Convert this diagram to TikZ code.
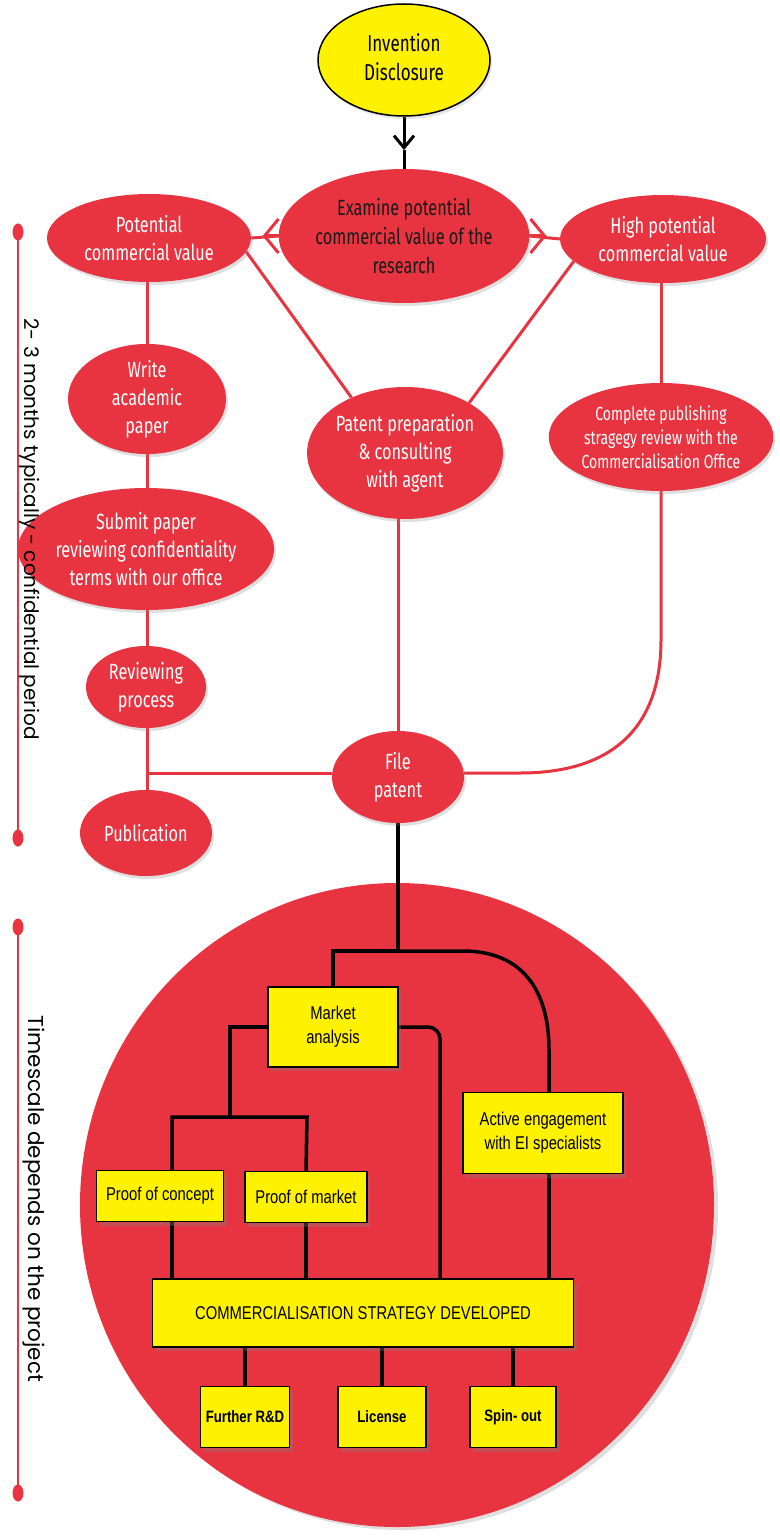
\documentclass[tikz,border=0pt]{standalone}
\usepackage{fontspec}
\setmainfont{Fira Sans}
\newfontfamily\ellfont[FakeStretch=0.74]{Fira Sans}
\newfontfamily\boxfont[FakeStretch=0.8]{Liberation Sans}
\newfontfamily\sidefont{Poppins}
\usetikzlibrary{shapes.geometric,arrows.meta,shadows}
\definecolor{myred}{RGB}{231,52,64}
\definecolor{myyellow}{RGB}{255,242,0}
\pgfdeclarelayer{bg}
\pgfdeclarelayer{conn}
\pgfsetlayers{bg,conn,main}
\begin{document}
\begin{tikzpicture}[x=1pt,y=-1pt,
  ell/.style={ellipse, fill=myred, inner sep=0pt, align=center, text=white,
    font=\ellfont\fontsize{22}{28}\selectfont,
    drop shadow={shadow xshift=2pt, shadow yshift=-3pt, opacity=0.25}},
  ybox/.style={rectangle, fill=myyellow, draw=black, line width=1.5pt, inner sep=0pt, align=center,
    font=\boxfont\fontsize{18.5}{24}\selectfont,
    drop shadow={shadow xshift=3pt, shadow yshift=-4pt, opacity=0.35}},
  redline/.style={draw=myred, line width=3pt},
  blkline/.style={draw=black, line width=3.5pt},
  barb/.style={-{Straight Barb[length=14pt, width=34pt, line width=3pt]}, draw=myred, line width=3pt},
  dot/.style={ellipse, fill=myred, inner sep=0pt, minimum width=11pt, minimum height=17pt},
  side/.style={rotate=-90, text=black, font=\sidefont\fontsize{20}{22}\selectfont}
]
\useasboundingbox (0,0) rectangle (779,1538);

% big circle
\begin{pgfonlayer}{bg}
\node[ellipse, fill=myred, minimum width=634pt, minimum height=644pt, inner sep=0pt,
  drop shadow={shadow xshift=4pt, shadow yshift=-3pt, opacity=0.25}] (big) at (397,1205) {};
\end{pgfonlayer}

% top ellipses
\node[ellipse, fill=myyellow, draw=black, line width=1.5pt, inner sep=0pt, align=center,
  minimum width=172pt, minimum height=112pt, font=\ellfont\fontsize{23}{28}\selectfont,
  drop shadow={shadow xshift=2pt, shadow yshift=-3pt, opacity=0.2}] (disc) at (404,60) {\raisebox{-7pt}{\begin{tabular}{@{}c@{}}Invention\\[1pt]Disclosure\end{tabular}}};
\node[ell, minimum width=238pt, minimum height=134pt, text=black!90, font=\ellfont\fontsize{22}{29}\selectfont] (exam) at (404,236)
  {Examine potential\\commercial value of the\\research};
\node[ell, minimum width=204pt, minimum height=88pt] (pot) at (149,238) {Potential\\commercial value};
\node[ell, minimum width=206pt, minimum height=88pt] (high) at (663,239) {High potential\\commercial value};
\node[ell, minimum width=158pt, minimum height=108pt] (write) at (147,399) {Write\\academic\\paper};
\node[ell, minimum width=186pt, minimum height=132pt] (prep) at (405,453) {Patent preparation\\\&\ consulting\\with agent};
\node[ell, minimum width=216pt, minimum height=108pt, font=\ellfont\fontsize{19}{24}\selectfont] (comp) at (661,437)
  {Complete publishing\\stragegy review with the\\Commercialisation Office};
\node[ell, minimum width=202pt, minimum height=122pt] (submit) at (146,549)
  {Submit paper\\reviewing confidentiality\\terms with our office};
\node[ell, minimum width=120pt, minimum height=82pt] (review) at (146,687) {Reviewing\\process};
\node[ell, minimum width=132pt, minimum height=86pt] (pub) at (146,833) {Publication};
\node[ell, minimum width=132pt, minimum height=92pt] (file) at (398,777) {File\\patent};

% boxes
\node[ybox, minimum width=130pt, minimum height=80pt] (market) at (333,1027) {Market\\analysis};
\node[ybox, minimum width=127pt, minimum height=51pt] (poc) at (160,1196) {Proof of concept};
\node[ybox, minimum width=122pt, minimum height=51pt] (pom) at (306,1197) {Proof of market};
\node[ybox, minimum width=160pt, minimum height=81pt] (active) at (543,1133) {Active engagement\\with EI specialists};
\node[ybox, minimum width=421pt, minimum height=68pt] (strat) at (363,1313) {COMMERCIALISATION STRATEGY DEVELOPED};
\node[ybox, minimum width=89pt, minimum height=61pt, font=\boxfont\bfseries\fontsize{16.5}{20}\selectfont] (rd) at (245,1417) {Further R\&D};
\node[ybox, minimum width=88pt, minimum height=61pt, font=\boxfont\bfseries\fontsize{16.5}{20}\selectfont] (lic) at (382,1417) {License};
\node[ybox, minimum width=86pt, minimum height=61pt, font=\boxfont\bfseries\fontsize{16.5}{20}\selectfont] (spin) at (513,1417) {Spin- out};

% timelines
\node[dot] (d1) at (18,232) {};
\node[dot] (d2) at (18,838) {};
\node[dot] (d3) at (18,927) {};
\node[dot] (d4) at (18,1493) {};
\node[side] (t1) at (30,529) {2- 3 months typically - confidential period};
\node[side, font=\sidefont\fontsize{21.5}{24}\selectfont] (t2) at (34,1199) {Timescale depends on the project};

\begin{pgfonlayer}{conn}
\draw[draw=myred, line width=2.2pt] (d1.center) -- (d2.center);
\draw[draw=myred, line width=2.2pt] (d3.center) -- (d4.center);

% top arrow
\coordinate (atip) at (404,150);
\draw[line width=3pt, -{Straight Barb[length=12pt, width=20pt, line width=3pt]}] (disc.south) -- (atip);
\draw[line width=3pt] (atip) -- (exam.north);

% side connectors
\draw[redline] (pot.east) -- (exam.west);
\draw[redline] (exam.east) -- (high.west);
\draw[barb] (exam.west) -- ++(-16,0);
\draw[barb] (exam.east) -- ++(17,0);
\draw[redline] (pot.-8) -- (prep.134);
\draw[redline] (high.194) -- (prep.38);

% left column
\draw[redline] (write.north |- pot.south) -- (write.north);
\draw[redline] (write.south) -- (submit.north -| write.south);
\draw[redline] (submit.south -| write.south) -- (review.north -| write.south);
\draw[redline] (review.south -| write.south) -- (pub.north -| write.south);
\draw[redline] (review.south -| write.south) |- ([yshift=4pt]file.west);
% middle / right
\draw[redline] (file.north |- prep.south) -- (file.north);
\draw[redline] (high.south -| comp.south) -- (comp.north);
\draw[redline] ([yshift=4pt]file.east) -- (520,773) .. controls (620,773) and (661,720) .. (661,640) -- (comp.south);

% black tree
\coordinate (j1) at (398,951);
\draw[blkline] (file.south) -- (j1);
\draw[blkline] (j1) -- (market.north |- j1) -- (market.north);
\draw[blkline] (j1) -- (463,951) .. controls (522,951) and (549,990) .. (549,1050) -- ([xshift=6pt]active.north);
\draw[blkline] (market.west) -- (230,1027) -- (230,1117);
\draw[blkline] ([xshift=12pt]poc.north) -- (172,1117) -- (307,1117) -- (pom.north);
\draw[blkline, rounded corners=12pt] (market.east) -- (440,1027) -- (440,1279);
\draw[blkline] ([xshift=12pt]poc.south) -- (172,1279);
\draw[blkline] (pom.south) -- (pom.south |- strat.north);
\draw[blkline] ([xshift=6pt]active.south) -- (549,1279);
\draw[blkline] (rd.north |- strat.south) -- (rd.north);
\draw[blkline] (lic.north |- strat.south) -- (lic.north);
\draw[blkline] (spin.north |- strat.south) -- (spin.north);
\end{pgfonlayer}
\end{tikzpicture}
\end{document}
